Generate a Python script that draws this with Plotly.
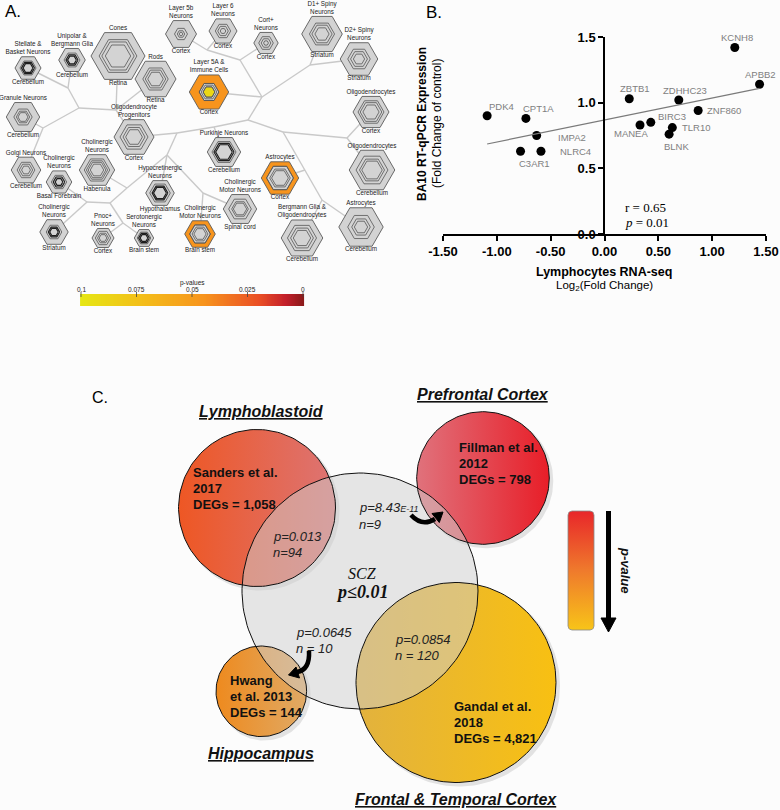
import numpy as np
import plotly.graph_objects as go
from plotly.colors import sample_colorscale

W, H = 780, 810
FONT = "Arial"
SERIF = "Liberation Serif"

# ---------------- Panel B data ----------------
genes = ["PDK4", "CPT1A", "IMPA2", "C3AR1", "NLRC4", "ZBTB1", "MANEA",
         "BIRC3", "ZDHHC23", "TLR10", "BLNK", "ZNF860", "KCNH8", "APBB2"]
lymph_log2fc = [-1.09, -0.73, -0.63, -0.78, -0.59, 0.23, 0.33,
                0.43, 0.69, 0.63, 0.60, 0.87, 1.21, 1.44]
ba10_fc = [0.90, 0.88, 0.75, 0.63, 0.63, 1.03, 0.83,
           0.85, 1.02, 0.81, 0.76, 0.94, 1.42, 1.14]
corr_r = 0.65
corr_p = 0.01
xticks_b = [-1.5, -1.0, -0.5, 0.0, 0.5, 1.0, 1.5]
yticks_b = [0.0, 0.5, 1.0, 1.5]

# ---------------- Panel A data ----------------
cell_types = ["Stellate &<br>Basket Neurons", "Unipolar &<br>Bergmann Glia", "Cones", "Rods",
              "Layer 5b<br>Neurons", "Layer 6<br>Neurons", "Cort+<br>Neurons",
              "D1+ Spiny<br>Neurons", "D2+ Spiny<br>Neurons", "Layer 5A &<br>Immune Cells",
              "Oligodendrocytes", "Granule Neurons", "Oligodendrocyte<br>Progenitors",
              "Golgi Neurons", "Cholinergic<br>Neurons", "Cholinergic<br>Neurons",
              "Purkinje Neurons", "Hypocretinergic<br>Neurons", "Astrocytes",
              "Oligodendrocytes", "Cholinergic<br>Motor Neurons", "Cholinergic<br>Neurons",
              "Pnoc+<br>Neurons", "Serotonergic<br>Neurons", "Cholinergic<br>Motor Neurons",
              "Bergmann Glia &<br>Oligodendrocytes", "Astrocytes"]
cell_regions = ["Cerebellum", "Cerebellum", "Retina", "Retina", "Cortex", "Cortex", "Cortex",
                "Striatum", "Striatum", "Cortex", "Cortex", "Cerebellum", "Cortex",
                "Cerebellum", "Basal Forebrain", "Habenula", "Cerebellum", "Hypothalamus",
                "Cortex", "Cerebellum", "Spinal cord", "Striatum", "Cortex", "Brain stem",
                "Brain stem", "Cerebellum", "Cerebellum"]
# enrichment p-values (None = not significant)
cell_pvalues = [None] * 27
cell_pvalues[9] = 0.045
cell_pvalues[18] = 0.045
cell_pvalues[24] = 0.045
inner_pvalues = {9: 0.09}
pval_ticks = [0.1, 0.075, 0.05, 0.025, 0.0]
pval_tick_labels = ["0.1", "0.075", "0.05", "0.025", "0"]

# ---------------- Panel C data ----------------
study_lines = [["Sanders et al.", "2017", "DEGs = 1,058"],
               ["Fillman et al.", "2012", "DEGs = 798"],
               ["Hwang", "et al. 2013", "DEGs = 144"],
               ["Gandal et al.", "2018", "DEGs = 4,821"]]
tissues = ["Lymphoblastoid", "Prefrontal Cortex", "Hippocampus", "Frontal & Temporal Cortex"]
overlap_p = ["p=0.013", "p=8.43<span style='font-size:9px'>E-11</span>", "p=0.0645", "p=0.0854"]
overlap_n = ["n=94", "n=9", "n = 10", "n = 120"]

# ================= layout geometry (not data) =================
hex_geom = [
    (28, 68, 13, [0.62, 0.5, 0.38], True),
    (72, 60, 13.3, [0.6, 0.45, 0.33], True),
    (118, 56, 27, [0.7, 0.6, 0.47], False),
    (155.5, 79, 20.5, [0.62, 0.5, 0.38], False),
    (181, 34, 15.5, [0.42, 0.24, 0.12], False),
    (223, 31, 14, [0.55, 0.38, 0.2], False),
    (266, 43, 12.2, [0.6, 0.4, 0.2], False),
    (322, 34, 20.3, [0.62, 0.5, 0.35], False),
    (359, 59, 18.8, [0.6, 0.45, 0.3], False),
    (209, 92, 19.7, [0.5, 0.4, 0.3], False),
    (371, 112, 18, [0.72, 0.6, 0.45], False),
    (23, 117, 16.7, [0.55, 0.4, 0.3], False),
    (134, 137, 20, [0.7, 0.55, 0.42], False),
    (26, 170, 14.8, [0.6, 0.45, 0.3], False),
    (59, 182, 12.8, [0.6, 0.45, 0.3], True),
    (97, 170, 17.7, [0.72, 0.6, 0.5, 0.38], False),
    (224, 152, 16.7, [0.72, 0.6, 0.5], True),
    (160, 193, 14.3, [0.72, 0.55, 0.45], True),
    (280, 178, 18.7, [0.72, 0.55, 0.45], False),
    (372, 170, 22.8, [0.7, 0.55, 0.45], False),
    (240, 209, 16.7, [0.68, 0.5, 0.4], False),
    (54, 232, 14.2, [0.55, 0.4, 0.3], True),
    (103, 238, 11, [0.7, 0.5, 0.35], False),
    (144, 238, 9.7, [0.7, 0.55, 0.4], True),
    (200, 234, 15.3, [0.68, 0.52, 0.4], False),
    (302, 238, 20.8, [0.7, 0.55, 0.42], False),
    (361, 227, 22.2, [0.6, 0.42, 0.3], False),
]
tree_nodes = {
    'N1': (68, 88), 'N2': (79, 108), 'N3': (43, 128), 'N4': (116, 110), 'N5': (177, 133),
    'N6': (167, 155), 'N8': (127, 188), 'N9': (203, 193), 'N10': (110, 203), 'N11': (87, 202),
    'N12': (123, 223), 'N13': (214, 127), 'N7': (248, 120), 'N14': (262, 97), 'N16': (240, 60),
    'N18': (207, 50), 'N17': (310, 65), 'N15': (283, 132), 'N19': (347, 138), 'N20': (322, 200),
    'N21': (305, 170),
}
tree_edges = [('N1', 0), ('N1', 1), ('N1', 'N2'), ('N2', 'N3'), ('N3', 11), ('N3', 13),
              ('N2', 'N4'), ('N4', 2), ('N4', 3), ('N4', 12), (12, 'N5'), ('N5', 'N6'),
              ('N6', 'N8'), ('N6', 'N9'), ('N6', 17), ('N8', 15), ('N8', 'N10'), ('N10', 'N11'),
              ('N10', 'N12'), ('N11', 14), ('N11', 21), ('N12', 22), ('N12', 23), ('N9', 24),
              ('N9', 20), ('N5', 'N13'), ('N13', 16), ('N13', 'N7'), ('N7', 'N14'), ('N14', 9),
              ('N14', 'N16'), ('N16', 'N18'), ('N18', 4), ('N18', 5), ('N16', 6), ('N14', 'N17'),
              ('N17', 7), ('N17', 8), ('N7', 'N15'), ('N15', 'N19'), ('N19', 10), ('N19', 19),
              ('N15', 'N20'), ('N20', 25), ('N20', 26), ('N21', 18)]

PSCALE = [[0.0, '#8b1a1a'], [0.08, '#c31f2a'], [0.2, '#ea4f25'], [0.45, '#f7941d'],
          [0.72, '#f4bd1a'], [1.0, '#e6e614']]


def pcolor(p):
    return sample_colorscale(PSCALE, [p / 0.1])[0]


def hexagon(cx, cy, r):
    a = np.deg2rad(np.arange(0, 420, 60))
    return list(cx + r * np.cos(a)), list(cy + r * np.sin(a))


def circle(cx, cy, r, n=160):
    t = np.linspace(0, 2 * np.pi, n)
    return list(cx + r * np.cos(t)), list(cy + r * np.sin(t))


fig = go.Figure()

# ================= Panel A =================
AX = dict(xaxis='x2', yaxis='y2', showlegend=False, hoverinfo='skip')


def node_xy(k):
    if isinstance(k, int):
        return hex_geom[k][0], hex_geom[k][1]
    return tree_nodes[k]


tx, ty = [], []
for a, b in tree_edges:
    (x0, y0), (x1, y1) = node_xy(a), node_xy(b)
    tx += [x0, x1, None]
    ty += [y0, y1, None]
fig.add_trace(go.Scatter(x=tx, y=ty, mode='lines', line=dict(color='#c9c9c9', width=1.4), **AX))

groups = {}
for i, (cx, cy, R, rings, dark) in enumerate(hex_geom):
    p = cell_pvalues[i]
    col = '#d3d3d3' if p is None else pcolor(p)
    hx, hy = hexagon(cx, cy, R)
    g = groups.setdefault(col, ([], []))
    g[0].extend(hx + [None]); g[1].extend(hy + [None])
for col, (gx, gy) in groups.items():
    fig.add_trace(go.Scatter(x=gx, y=gy, mode='lines', fill='toself', fillcolor=col,
                             line=dict(color='#5a5a5a', width=0.9), **AX))

ix, iy = [], []
for i, (cx, cy, R, rings, dark) in enumerate(hex_geom):
    if cell_pvalues[i] is not None:
        hx, hy = hexagon(cx, cy, R * rings[0])
        ix += hx + [None]; iy += hy + [None]
fig.add_trace(go.Scatter(x=ix, y=iy, mode='lines', fill='toself', fillcolor='#d3d3d3',
                         line=dict(color='#5a5a5a', width=0.8), **AX))
for i, pin in inner_pvalues.items():
    cx, cy, R, rings, dark = hex_geom[i]
    hx, hy = hexagon(cx, cy, R * rings[-1])
    fig.add_trace(go.Scatter(x=hx, y=hy, mode='lines', fill='toself', fillcolor=pcolor(pin),
                             line=dict(color='#5a5a5a', width=0.8), **AX))

lx, ly, dx, dy = [], [], [], []
for i, (cx, cy, R, rings, dark) in enumerate(hex_geom):
    for k, f in enumerate(rings):
        hx, hy = hexagon(cx, cy, R * f)
        if dark and k >= 1:
            dx += hx + [None]; dy += hy + [None]
        else:
            lx += hx + [None]; ly += hy + [None]
fig.add_trace(go.Scatter(x=lx, y=ly, mode='lines', line=dict(color='#555555', width=0.8), **AX))
fig.add_trace(go.Scatter(x=dx, y=dy, mode='lines', line=dict(color='#1e1e1e', width=1.2), **AX))

fig.add_trace(go.Scatter(
    x=[g[0] for g in hex_geom], y=[g[1] - g[2] * 0.866 - 1 for g in hex_geom],
    text=cell_types, mode='text', textposition='top center', cliponaxis=False,
    textfont=dict(family=FONT, size=6.3, color='#222222'), **AX))
fig.add_trace(go.Scatter(
    x=[g[0] for g in hex_geom], y=[g[1] + g[2] * 0.866 + 0.5 for g in hex_geom],
    text=cell_regions, mode='text', textposition='bottom center', cliponaxis=False,
    textfont=dict(family=FONT, size=6.3, color='#222222'), **AX))

CB_X0, CB_X1, CB_Y0, CB_Y1 = 81, 303, 297, 303


def pbar_x(p):
    return CB_X0 + (0.1 - p) / 0.1 * (CB_X1 - CB_X0)


pgrid = np.linspace(0.1, 0.0, 120)
fig.add_trace(go.Heatmap(x=[pbar_x(p) for p in pgrid], y=[CB_Y0, CB_Y1],
                         z=[list(pgrid / 0.1), list(pgrid / 0.1)], colorscale=PSCALE,
                         zmin=0, zmax=1, showscale=False, zsmooth='best',
                         xaxis='x2', yaxis='y2', hoverinfo='skip'))
for p, lab in zip(pval_ticks, pval_tick_labels):
    fig.add_shape(type='line', xref='x2', yref='y2', x0=pbar_x(p), x1=pbar_x(p), y0=292, y1=297,
                  line=dict(color='#444', width=0.8))
    fig.add_annotation(xref='x2', yref='y2', x=pbar_x(p), y=289.5, text=lab, showarrow=False,
                       yanchor='middle', font=dict(family=FONT, size=6.5, color='#222'))
fig.add_annotation(xref='x2', yref='y2', x=pbar_x(0.05), y=283, text='p-values', showarrow=False,
                   yanchor='middle', font=dict(family=FONT, size=6.5, color='#222'))

# ================= Panel B =================
fig.add_trace(go.Scatter(x=lymph_log2fc, y=ba10_fc, mode='markers',
                         marker=dict(color='black', size=9), cliponaxis=False,
                         xaxis='x', yaxis='y', showlegend=False))
slope, icpt = np.polyfit(lymph_log2fc, ba10_fc, 1)
fx = [min(lymph_log2fc), max(lymph_log2fc)]
fig.add_trace(go.Scatter(x=fx, y=[slope * v + icpt for v in fx], mode='lines',
                         line=dict(color='#7a7a7a', width=1.2), xaxis='x', yaxis='y',
                         showlegend=False))
label_shift = {"PDK4": (14, 9), "CPT1A": (13, 10), "IMPA2": (35, -2), "C3AR1": (14, -12),
               "NLRC4": (35, 0), "ZBTB1": (6, 10), "MANEA": (-9, -9), "BIRC3": (21, 6),
               "ZDHHC23": (6, 10), "TLR10": (24, 0), "BLNK": (7, -12), "ZNF860": (26, 0),
               "KCNH8": (2, 10), "APBB2": (1, 10)}
for g, x, y in zip(genes, lymph_log2fc, ba10_fc):
    sx, sy = label_shift[g]
    fig.add_annotation(x=x, y=y, xref='x', yref='y', text=g, showarrow=False, xshift=sx,
                       yshift=sy, yanchor='middle', xanchor='center',
                       font=dict(family=FONT, size=9.5, color='#7f7f7f'))
fig.add_annotation(x=0.17, y=0.2, xref='x', yref='y', xanchor='left', yanchor='middle',
                   showarrow=False, text=f"r = {corr_r:.2f}",
                   font=dict(family=SERIF, size=13, color='black'))
fig.add_annotation(x=0.17, y=0.09, xref='x', yref='y', xanchor='left', yanchor='middle',
                   showarrow=False, text=f"<i>p</i> = {corr_p:.2f}",
                   font=dict(family=SERIF, size=13, color='black'))


def pa(text, x, y, size, **kw):
    d = dict(xref='paper', yref='paper', x=x / W, y=1 - y / H, text=text, showarrow=False,
             xanchor='center', yanchor='middle',
             font=dict(family=kw.pop('family', FONT), size=size, color=kw.pop('color', 'black')))
    d.update(kw)
    fig.add_annotation(**d)


pa("<b>BA10 RT-qPCR Expression</b>", 422, 124, 12, textangle=-90)
pa("(Fold Change of control)", 437, 124, 12, textangle=-90)
pa("<b>Lymphocytes RNA-seq</b>", 604, 272, 12.5)
pa("Log<sub>2</sub>(Fold Change)", 604, 286, 11.5)
pa("A.", 3, 11, 17, xanchor='left')
pa("B.", 424, 12, 17, xanchor='left')
pa("C.", 90, 397, 16, xanchor='left')

# ================= Panel C =================
CX = dict(xaxis='x3', yaxis='y3', showlegend=False, hoverinfo='skip')
circ = {'S': (257, 508, 78.5), 'F': (483, 478, 66.3), 'Z': (360, 591, 118),
        'H': (261.3, 691.3, 45.3), 'G': (456, 682.5, 100)}
grads = {'S': ['#ee5724', '#dd7474'], 'F': ['#e0727c', '#e81e28'],
         'H': ['#ee8a1e', '#e0aa66'], 'G': ['#e2b23e', '#f8c012']}
for k in ['S', 'F', 'H', 'G']:
    cx, cy, r = circ[k]
    xs, ys = circle(cx + 3, cy + 3, r + 1)
    fig.add_trace(go.Scatter(x=xs, y=ys, mode='lines', fill='toself',
                             fillcolor='rgba(0,0,0,0.10)', line=dict(width=0), **CX))
for k in ['S', 'F', 'H', 'G']:
    cx, cy, r = circ[k]
    xs, ys = circle(cx, cy, r)
    fig.add_trace(go.Scatter(x=xs, y=ys, mode='lines', fill='toself',
                             fillgradient=dict(type='horizontal',
                                               colorscale=[[0, grads[k][0]], [1, grads[k][1]]]),
                             line=dict(width=0), **CX))
cx, cy, r = circ['Z']
xs, ys = circle(cx, cy, r)
fig.add_trace(go.Scatter(x=xs, y=ys, mode='lines', fill='toself',
                         fillcolor='rgba(205,205,205,0.5)', line=dict(width=0), **CX))
for k in ['S', 'F', 'H', 'G', 'Z']:
    cx, cy, r = circ[k]
    xs, ys = circle(cx, cy, r)
    fig.add_trace(go.Scatter(x=xs, y=ys, mode='lines', line=dict(color='#111', width=1), **CX))

# p-value gradient bar
bx0, bx1, by0, by1, rr = 568, 594, 511, 630, 4
t = np.linspace(0, np.pi / 2, 8)
px_ = list(bx1 - rr + rr * np.sin(t)) + list(bx1 - rr + rr * np.cos(t)) + \
    list(bx0 + rr - rr * np.sin(t)) + list(bx0 + rr - rr * np.cos(t))
py_ = list(by0 + rr - rr * np.cos(t)) + list(by1 - rr + rr * np.sin(t)) + \
    list(by1 - rr + rr * np.cos(t)) + list(by0 + rr - rr * np.sin(t))
px_.append(px_[0]); py_.append(py_[0])
fig.add_trace(go.Scatter(x=px_, y=py_, mode='lines', fill='toself',
                         fillgradient=dict(type='vertical',
                                           colorscale=[[0, '#f8c418'], [0.5, '#ef7a2c'],
                                                       [1, '#e8262a']]),
                         line=dict(color='#888', width=0.8), **CX))
fig.add_shape(type='line', xref='x3', yref='y3', x0=608.5, x1=608.5, y0=511, y1=620,
              line=dict(color='black', width=5))
fig.add_shape(type='path', xref='x3', yref='y3', path='M 601 618 L 616 618 L 608.5 632 Z',
              fillcolor='black', line=dict(color='black', width=1))

fig.add_shape(type='path', xref='x3', yref='y3', path='M 411 515 Q 422 527 435 519',
              line=dict(color='black', width=4.5))
fig.add_shape(type='path', xref='x3', yref='y3',
              path='M 443 512 L 439.3 522.5 L 432 513.5 Z', fillcolor='black',
              line=dict(color='black', width=1))
fig.add_shape(type='path', xref='x3', yref='y3', path='M 309 651 Q 310 670 297 672',
              line=dict(color='black', width=4.5))
fig.add_shape(type='path', xref='x3', yref='y3',
              path='M 288.5 675 L 299.5 678 L 296 667 Z', fillcolor='black',
              line=dict(color='black', width=1))


def ca(text, x, y, size, **kw):
    d = dict(xref='x3', yref='y3', x=x, y=y, text=text, showarrow=False,
             xanchor='center', yanchor='middle',
             font=dict(family=kw.pop('family', FONT), size=size, color=kw.pop('color', '#111')))
    d.update(kw)
    fig.add_annotation(**d)


study_pos = [(190.7, 473), (457, 448), (227.7, 680), (451.7, 706)]
for lines, (x0, y0) in zip(study_lines, study_pos):
    for j, line in enumerate(lines):
        ca(f"<b>{line}</b>", x0, y0 + 16 * j, 13, xanchor='left')

head_pos = [(261.5, 412), (483, 395), (261, 753), (456, 799)]
for txt, (x0, y0) in zip(tissues, head_pos):
    ca(f"<b><i><u>{txt}</u></i></b>", x0, y0, 16)

ov_pos = [(271, 536), (357, 508), (294, 632), (393, 639)]
for pt, nt, (x0, y0) in zip(overlap_p, overlap_n, ov_pos):
    ca(f"<i>{pt}</i>", x0, y0, 13, xanchor='left', color='#222')
    ca(f"<i>{nt}</i>", x0, y0 + 16, 13, xanchor='left', color='#222')

ca("<i>SCZ</i>", 362, 573, 16, family=SERIF)
ca("<b><i>p≤0.01</i></b>", 362, 592, 18, family=SERIF)
ca("<b><i>p-value</i></b>", 626, 570, 13, textangle=90)

fig.update_layout(
    width=W, height=H, margin=dict(l=0, r=0, t=0, b=0, autoexpand=False),
    paper_bgcolor='#fcfcfc', plot_bgcolor='rgba(0,0,0,0)', showlegend=False,
    xaxis=dict(domain=[443 / W, 766 / W], range=[-1.5, 1.5], anchor='y', automargin=False,
               tickvals=xticks_b, ticktext=[f"<b>{v:.2f}</b>" for v in xticks_b],
               showline=True, linecolor='black', linewidth=1.5, ticks='outside',
               ticklen=5, tickwidth=1.5, tickcolor='black', showgrid=False, zeroline=False,
               tickfont=dict(family=FONT, size=13, color='black')),
    yaxis=dict(domain=[1 - 234 / H, 1 - 37 / H], range=[0, 1.5], anchor='free',
               position=604 / W, tickvals=yticks_b, automargin=False,
               ticktext=[f"<b>{v:.1f}</b>" for v in yticks_b],
               showline=True, linecolor='black', linewidth=1.5, ticks='outside',
               ticklen=5, tickwidth=1.5, tickcolor='black', showgrid=False, zeroline=False,
               tickfont=dict(family=FONT, size=13, color='black')),
    xaxis2=dict(domain=[0, 410 / W], range=[0, 410], visible=False, anchor='y2', automargin=False),
    yaxis2=dict(domain=[1 - 310 / H, 1], range=[310, 0], visible=False, anchor='x2', automargin=False),
    xaxis3=dict(domain=[0, 1], range=[0, 780], visible=False, anchor='y3', automargin=False),
    yaxis3=dict(domain=[0, 1 - 355 / H], range=[810, 355], visible=False, anchor='x3', automargin=False),
)

fig.write_html("out.html", config={'displayModeBar': False},
               post_script="document.body.style.margin='0';document.body.style.padding='0';"
                           "document.documentElement.style.overflow='hidden';")
